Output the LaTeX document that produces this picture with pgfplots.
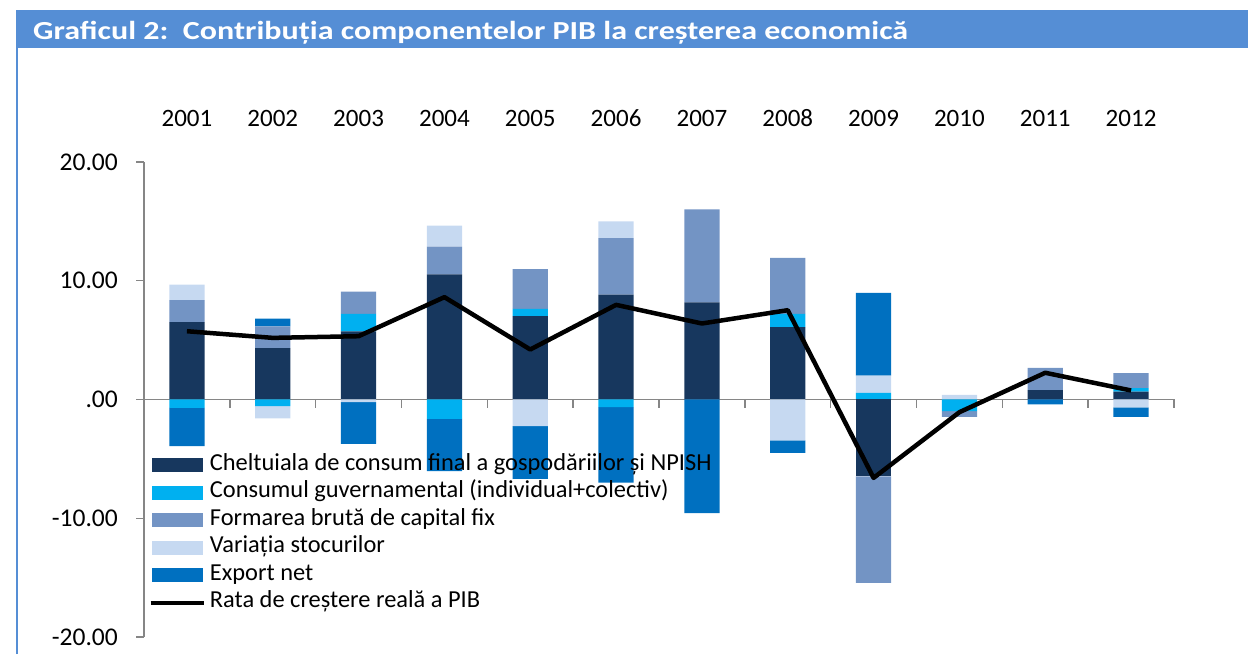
\documentclass[border=0pt]{standalone}
\usepackage{pgfplots}
\pgfplotsset{compat=1.18}
\usepackage{pgfplotstable}
\usepackage{graphicx}
\usepackage{fontspec}
\setmainfont{Carlito}
\definecolor{chh}{HTML}{17375E}
\definecolor{cgov}{HTML}{00B0F0}
\definecolor{cfb}{HTML}{7394C4}
\definecolor{cst}{HTML}{C6D9F1}
\definecolor{cex}{HTML}{0070C0}
\definecolor{band}{HTML}{558ED5}
\definecolor{axgray}{HTML}{868686}

% positive parts of the contributions
\pgfplotstableread{
x hh gov fbcf stoc exp
0 6.51 0 1.85 1.32 0
1 4.32 0 1.83 0 0.67
2 5.73 1.48 1.88 0 0
3 10.53 0 2.35 1.77 0
4 7.02 0.61 3.34 0 0
5 8.84 0 4.75 1.40 0
6 8.17 0 7.83 0 0
7 6.09 1.12 4.72 0 0
8 0 0.56 0 1.44 6.98
9 0 0 0 0.39 0
10 0.78 0 1.89 0 0
11 0.67 0.28 1.27 0 0
}\posdata
% negative parts of the contributions
\pgfplotstableread{
x hh gov fbcf stoc exp
0 0 -0.70 0 0 -3.23
1 0 -0.56 0 -1.04 0
2 0 0 0 -0.22 -3.51
3 0 -1.63 0 0 -4.40
4 0 0 0 -2.25 -4.43
5 0 -0.65 0 0 -6.34
6 0 0 0 0 -9.57
7 0 0 0 -3.45 -1.04
8 -6.48 0 -8.96 0 0
9 0 -0.98 -0.49 0 0
10 0 0 0 0 -0.42
11 0 0 0 -0.67 -0.79
}\negdata
\pgfplotstableread{
x g
0 5.75
1 5.19
2 5.33
3 8.62
4 4.21
5 7.97
6 6.40
7 7.52
8 -6.60
9 -1.07
10 2.25
11 0.76
}\gdpdata

\pgfplotsset{
  base/.style={scale only axis, width=1030pt, height=475pt,
    xmin=-0.5, xmax=11.5, ymin=-20, ymax=20,
    at={(144pt,17pt)}, anchor=south west, clip=false},
  bars/.style={ybar stacked, bar width=0.41},
  sw/.style={legend image code/.code={\fill[##1] (0pt,-6.85pt) rectangle (51pt,6.85pt);}},
  lw/.style={legend image code/.code={\draw[##1] (-1.5pt,0pt) -- (51.5pt,0pt);}},
}

\begin{document}
\begin{tikzpicture}
\useasboundingbox (0,0) rectangle (1248pt,654pt);
\fill[band] (16pt,606pt) rectangle (1248pt,644pt);
\draw[band, line width=1.5pt] (16.75pt,0pt) -- (16.75pt,606pt);
\node[anchor=base west, text=white, inner sep=0pt, font=\fontsize{26}{30}\selectfont\bfseries]
  at (33pt,614.7pt) {\resizebox{875pt}{\height}{Graficul 2:\ \ Contribuția componentelor PIB la creșterea economică}};

\begin{axis}[base, bars,
  axis y line*=left, axis x line*=middle,
  axis line style={axgray, line width=1.5pt},
  tick style={axgray, line width=1.5pt},
  major tick length=8pt, tick align=outside,
  xtick={-0.5,0.5,...,11.5}, xticklabels={},
  ytick={-20,-10,0,10,20}, yticklabels={-20.00,-10.00,.00,10.00,20.00},
  yticklabel style={font=\fontsize{25.5}{30}\selectfont, anchor=east, inner sep=0pt, xshift=-18pt},
  hide obscured x ticks=false, hide obscured y ticks=false,
]
\addplot[fill=chh, draw=none] table[x=x,y=hh]{\posdata};
\addplot[fill=cgov, draw=none] table[x=x,y=gov]{\posdata};
\addplot[fill=cfb, draw=none] table[x=x,y=fbcf]{\posdata};
\addplot[fill=cst, draw=none] table[x=x,y=stoc]{\posdata};
\addplot[fill=cex, draw=none] table[x=x,y=exp]{\posdata};
\end{axis}

\begin{axis}[base, bars, hide axis]
\addplot[fill=chh, draw=none] table[x=x,y=hh]{\negdata};
\addplot[fill=cgov, draw=none] table[x=x,y=gov]{\negdata};
\addplot[fill=cfb, draw=none] table[x=x,y=fbcf]{\negdata};
\addplot[fill=cst, draw=none] table[x=x,y=stoc]{\negdata};
\addplot[fill=cex, draw=none] table[x=x,y=exp]{\negdata};
\end{axis}

\begin{axis}[base, hide axis,
  legend style={at={(rel axis cs:0.0041,0.383)}, anchor=north west,
    draw=none, fill=none, inner sep=0pt,
    font=\fontsize{24.4}{28}\selectfont,
    nodes={inner xsep=2pt, inner ysep=0pt, text height=15pt, text depth=5pt},
    row sep=7.5pt, column sep=2pt},
  legend cell align=left,
]
\addlegendimage{sw, fill=chh, draw=none}
\addlegendentry{Cheltuiala de consum final a gospodăriilor și NPISH}
\addlegendimage{sw, fill=cgov, draw=none}
\addlegendentry{Consumul guvernamental (individual+colectiv)}
\addlegendimage{sw, fill=cfb, draw=none}
\addlegendentry{Formarea brută de capital fix}
\addlegendimage{sw, fill=cst, draw=none}
\addlegendentry{Variația stocurilor}
\addlegendimage{sw, fill=cex, draw=none}
\addlegendentry{Export net}
\addplot[lw, black, line width=4.5pt, line join=round, mark=none] table[x=x,y=g]{\gdpdata};
\addlegendentry{Rata de creștere reală a PIB}
\node[font=\fontsize{25}{30}\selectfont] at (axis cs:0,23.69) {2001};
\node[font=\fontsize{25}{30}\selectfont] at (axis cs:1,23.69) {2002};
\node[font=\fontsize{25}{30}\selectfont] at (axis cs:2,23.69) {2003};
\node[font=\fontsize{25}{30}\selectfont] at (axis cs:3,23.69) {2004};
\node[font=\fontsize{25}{30}\selectfont] at (axis cs:4,23.69) {2005};
\node[font=\fontsize{25}{30}\selectfont] at (axis cs:5,23.69) {2006};
\node[font=\fontsize{25}{30}\selectfont] at (axis cs:6,23.69) {2007};
\node[font=\fontsize{25}{30}\selectfont] at (axis cs:7,23.69) {2008};
\node[font=\fontsize{25}{30}\selectfont] at (axis cs:8,23.69) {2009};
\node[font=\fontsize{25}{30}\selectfont] at (axis cs:9,23.69) {2010};
\node[font=\fontsize{25}{30}\selectfont] at (axis cs:10,23.69) {2011};
\node[font=\fontsize{25}{30}\selectfont] at (axis cs:11,23.69) {2012};
\end{axis}
\end{tikzpicture}
\end{document}
